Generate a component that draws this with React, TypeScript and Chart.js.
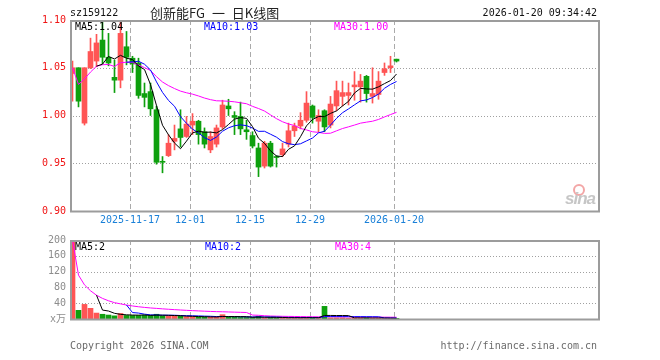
import React, { useEffect, useRef } from "react";
import { Chart, registerables } from "chart.js";

Chart.register(...registerables);

// ---------------- data ----------------
const dates = [
  "2025-11-03", "2025-11-04", "2025-11-05", "2025-11-06", "2025-11-07",
  "2025-11-10", "2025-11-11", "2025-11-12", "2025-11-13", "2025-11-14",
  "2025-11-17", "2025-11-18", "2025-11-19", "2025-11-20", "2025-11-21",
  "2025-11-24", "2025-11-25", "2025-11-26", "2025-11-27", "2025-11-28",
  "2025-12-01", "2025-12-02", "2025-12-03", "2025-12-04", "2025-12-05",
  "2025-12-08", "2025-12-09", "2025-12-10", "2025-12-11", "2025-12-12",
  "2025-12-15", "2025-12-16", "2025-12-17", "2025-12-18", "2025-12-19",
  "2025-12-22", "2025-12-23", "2025-12-24", "2025-12-25", "2025-12-26",
  "2025-12-29", "2025-12-30", "2025-12-31", "2026-01-05", "2026-01-06",
  "2026-01-07", "2026-01-08", "2026-01-09", "2026-01-12", "2026-01-13",
  "2026-01-14", "2026-01-15", "2026-01-16", "2026-01-19", "2026-01-20",
];

const openP = [
  1.044, 1.050, 0.992, 1.050, 1.057, 1.079, 1.061, 1.040, 1.037, 1.072,
  1.060, 1.055, 1.023, 1.025, 1.006, 0.952, 0.958, 0.973, 0.986, 0.978,
  0.990, 0.994, 0.983, 0.964, 0.970, 0.988, 1.010, 1.000, 0.999, 0.985,
  0.979, 0.966, 0.947, 0.971, 0.957, 0.959, 0.970, 0.984, 0.989, 0.995,
  1.010, 0.994, 1.005, 0.990, 1.010, 1.020, 1.021, 1.030, 1.030, 1.041,
  1.020, 1.022, 1.045, 1.050, 1.059,
];
const closeP = [
  1.050, 1.015, 1.050, 1.067, 1.076, 1.061, 1.055, 1.037, 1.086, 1.061,
  1.054, 1.021, 1.019, 1.007, 0.951, 0.951, 0.971, 0.976, 0.977, 0.991,
  0.994, 0.980, 0.970, 0.978, 0.987, 1.011, 1.007, 0.998, 0.986, 0.983,
  0.968, 0.946, 0.971, 0.947, 0.956, 0.965, 0.984, 0.989, 0.995, 1.013,
  0.998, 1.000, 0.988, 1.012, 1.026, 1.024, 1.024, 1.032, 1.036, 1.023,
  1.023, 1.036, 1.049, 1.052, 1.057,
];
const highP = [
  1.057, 1.050, 1.050, 1.081, 1.085, 1.098, 1.086, 1.058, 1.098, 1.088,
  1.062, 1.060, 1.034, 1.034, 1.010, 0.957, 0.980, 0.990, 1.006, 0.999,
  1.002, 0.995, 0.987, 0.983, 0.990, 1.016, 1.017, 1.004, 1.014, 0.995,
  0.983, 0.971, 0.973, 0.973, 0.958, 0.971, 0.992, 0.992, 1.003, 1.025,
  1.011, 1.006, 1.006, 1.020, 1.036, 1.036, 1.034, 1.046, 1.043, 1.042,
  1.050, 1.046, 1.055, 1.062, 1.059,
];
const lowP = [
  1.015, 1.009, 0.990, 1.049, 1.051, 1.054, 1.052, 1.024, 1.029, 1.053,
  1.045, 1.018, 1.009, 1.000, 0.949, 0.940, 0.957, 0.964, 0.967, 0.977,
  0.980, 0.970, 0.966, 0.961, 0.967, 0.986, 1.000, 0.980, 0.980, 0.975,
  0.966, 0.936, 0.945, 0.946, 0.946, 0.957, 0.967, 0.978, 0.986, 0.993,
  0.992, 0.983, 0.983, 0.987, 1.005, 1.010, 1.011, 1.016, 1.014, 1.014,
  1.013, 1.017, 1.042, 1.045, 1.056,
];
// volume, 万
const volume = [
  200, 22, 37, 27, 15, 12, 10, 8, 14, 9,
  9, 9, 10, 9, 12, 8, 8, 7, 7, 6,
  6, 5, 5, 5, 5, 11, 5, 5, 4, 4,
  4, 7, 3, 4, 3, 3, 3, 3, 3, 4,
  3, 3, 32, 3, 3, 3, 2, 3, 3, 3,
  2, 2, 2, 2, 1.5,
];

const priceTicks = [0.9, 0.95, 1.0, 1.05, 1.1];
const priceGrid = [0.95, 1.0, 1.05];
const volTicks = [0, 40, 80, 120, 160, 200];
const volGrid = [40, 80, 120, 160];
const axisTickDates = ["2025-11-17", "2025-12-01", "2025-12-15", "2025-12-29", "2026-01-20"];
const axisTickText = ["2025-11-17", "12-01", "12-15", "12-29", "2026-01-20"];

const priceLegend = ["MA5:1.04", "MA10:1.03", "MA30:1.00"];
const volLegend = ["MA5:2", "MA10:2", "MA30:4"];

// ---------------- layout / style ----------------
const TOTAL_SLOTS = 88;
const SLOT_SHIFT = 5 / 12; // candle centre sits 2.5px right of its slot's left edge
const BODY_W = 5;
const RED = "#ff5555";
const GREEN = "#0ea00e";
const C_MA5 = "#000000";
const C_MA10 = "#0000ff";
const C_MA30 = "#ff00ff";
const MONO = '"DejaVu Sans Mono", "Noto Sans CJK SC", monospace';

const tickIdx = axisTickDates.map((d) => dates.indexOf(d));
const up = dates.map((_, i) => closeP[i] >= openP[i]);
const candleColors = up.map((u) => (u ? RED : GREEN));

function movingAvg(src: number[], n: number, cumulativeStart: boolean) {
  const out: { x: number; y: number }[] = [];
  for (let i = 0; i < src.length; i++) {
    if (i < n - 1 && !cumulativeStart) continue;
    const from = Math.max(0, i - n + 1);
    let s = 0;
    for (let k = from; k <= i; k++) s += src[k];
    out.push({ x: i, y: s / (i - from + 1) });
  }
  return out;
}

function xScaleOpts(showLabels: boolean) {
  return {
    type: "linear",
    min: -SLOT_SHIFT,
    max: TOTAL_SLOTS - SLOT_SHIFT,
    bounds: "data",
    offset: false,
    display: showLabels,
    grid: { display: false, drawTicks: false, offset: false },
    border: { display: false },
    afterBuildTicks: (s: any) => {
      s.ticks = tickIdx.map((i) => ({ value: i - SLOT_SHIFT }));
    },
    afterFit: (s: any) => {
      s.height = 21;
    },
    ticks: {
      autoSkip: false,
      maxRotation: 0,
      padding: 3,
      color: "#1a80d8",
      font: { family: MONO, size: 10 },
      callback: (v: number) => {
        const k = tickIdx.findIndex((i) => Math.abs(i - SLOT_SHIFT - v) < 1e-6);
        return k >= 0 ? axisTickText[k] : "";
      },
    },
  };
}

function framePlugin(hValues: number[]) {
  return {
    id: "frame",
    beforeDatasetsDraw(chart: any) {
      const { ctx, chartArea: a, scales } = chart;
      ctx.save();
      ctx.lineWidth = 1;
      ctx.strokeStyle = "#a0a0a0";
      ctx.setLineDash([1, 2]);
      hValues.forEach((v) => {
        const y = Math.round(scales.y.getPixelForValue(v)) + 0.5;
        ctx.beginPath();
        ctx.moveTo(a.left, y);
        ctx.lineTo(a.right, y);
        ctx.stroke();
      });
      ctx.strokeStyle = "#aaaaaa";
      ctx.setLineDash([5, 3]);
      tickIdx.forEach((i) => {
        const x = Math.round(scales.x.getPixelForValue(i) - BODY_W / 2) + 0.5;
        ctx.beginPath();
        ctx.moveTo(x, a.top);
        ctx.lineTo(x, a.bottom);
        ctx.stroke();
      });
      ctx.restore();
    },
    afterDatasetsDraw(chart: any) {
      const { ctx, chartArea: a } = chart;
      ctx.save();
      ctx.lineWidth = 2;
      ctx.strokeStyle = "#9c9c9c";
      ctx.setLineDash([]);
      ctx.strokeRect(a.left + 1, a.top + 1, a.right - a.left, a.bottom - a.top - 0.5);
      ctx.restore();
    },
  };
}

function lineDs(data: { x: number; y: number }[], color: string) {
  return {
    type: "line",
    data,
    borderColor: color,
    borderWidth: 1,
    pointRadius: 0,
    tension: 0,
    fill: false,
    order: 0,
  };
}

export default function App() {
  const priceRef = useRef<HTMLCanvasElement | null>(null);
  const volRef = useRef<HTMLCanvasElement | null>(null);

  useEffect(() => {
    document.body.style.margin = "0";
    const pc = new Chart(priceRef.current as HTMLCanvasElement, {
      type: "bar",
      data: {
        datasets: [
          lineDs(movingAvg(closeP, 5, false), C_MA5),
          lineDs(movingAvg(closeP, 10, false), C_MA10),
          lineDs(movingAvg(closeP, 30, true), C_MA30),
          {
            type: "bar",
            data: dates.map((_, i) => ({ x: i, y: [openP[i], closeP[i]] })),
            backgroundColor: candleColors,
            barThickness: BODY_W,
            grouped: false,
            minBarLength: 1,
            order: 1,
          },
          {
            type: "bar",
            data: dates.map((_, i) => ({ x: i, y: [lowP[i], highP[i]] })),
            backgroundColor: candleColors,
            barThickness: 1,
            grouped: false,
            order: 2,
          },
        ] as any,
      },
      options: {
        animation: false,
        responsive: false,
        maintainAspectRatio: false,
        events: [],
        layout: { padding: { top: 20, right: 62, left: 0, bottom: 0 } },
        plugins: { legend: { display: false }, tooltip: { enabled: false } },
        scales: {
          x: xScaleOpts(true) as any,
          y: {
            type: "linear",
            min: 0.9,
            max: 1.1,
            bounds: "data",
            grid: { display: false, drawTicks: false },
            border: { display: false },
            afterBuildTicks: (s: any) => {
              s.ticks = priceTicks.map((v) => ({ value: v }));
            },
            afterFit: (s: any) => {
              s.width = 70;
            },
            ticks: {
              padding: 4,
              color: "#f01414",
              font: { family: MONO, size: 10 },
              callback: (v: any) => Number(v).toFixed(2),
            },
          } as any,
        },
      },
      plugins: [framePlugin(priceGrid)],
    } as any);

    const vc = new Chart(volRef.current as HTMLCanvasElement, {
      type: "bar",
      data: {
        datasets: [
          lineDs(movingAvg(volume, 5, false), C_MA5),
          lineDs(movingAvg(volume, 10, false), C_MA10),
          lineDs(movingAvg(volume, 30, true), C_MA30),
          {
            type: "bar",
            data: dates.map((_, i) => ({ x: i, y: volume[i] })),
            backgroundColor: candleColors,
            barThickness: BODY_W,
            grouped: false,
            order: 1,
          },
        ] as any,
      },
      options: {
        animation: false,
        responsive: false,
        maintainAspectRatio: false,
        events: [],
        layout: { padding: { top: 15, right: 62, left: 0, bottom: 20 } },
        plugins: { legend: { display: false }, tooltip: { enabled: false } },
        scales: {
          x: xScaleOpts(false) as any,
          y: {
            type: "linear",
            min: 0,
            max: 200,
            bounds: "data",
            grid: { display: false, drawTicks: false },
            border: { display: false },
            afterBuildTicks: (s: any) => {
              s.ticks = volTicks.map((v) => ({ value: v }));
            },
            afterFit: (s: any) => {
              s.width = 70;
            },
            ticks: {
              padding: 4,
              color: "#8c8c8c",
              font: { family: MONO, size: 10 },
              callback: (v: any) => (Number(v) === 0 ? "x万" : String(v)),
            },
          } as any,
        },
      },
      plugins: [framePlugin(volGrid)],
    } as any);

    const fonts: any = (document as any).fonts;
    if (fonts && fonts.load) {
      Promise.all([
        fonts.load('10px "DejaVu Sans Mono"'),
        fonts.load('10px "Noto Sans CJK SC"'),
      ])
        .then(() => {
          pc.update();
          vc.update();
        })
        .catch(() => {});
    }

    return () => {
      pc.destroy();
      vc.destroy();
    };
  }, []);

  const mono: React.CSSProperties = {
    position: "absolute",
    fontFamily: MONO,
    fontSize: 10,
    lineHeight: "12px",
    whiteSpace: "nowrap",
  };

  return (
    <div
      style={{
        position: "absolute",
        left: 0,
        top: 0,
        width: 660,
        height: 360,
        background: "#ffffff",
        overflow: "hidden",
      }}
    >
      <canvas
        ref={priceRef}
        width={660}
        height={232}
        style={{ position: "absolute", left: 0, top: 0, width: 660, height: 232 }}
      />
      <canvas
        ref={volRef}
        width={660}
        height={135}
        style={{ position: "absolute", left: 0, top: 225, width: 660, height: 135 }}
      />

      <div style={{ ...mono, left: 70, top: 7, color: "#111" }}>sz159122</div>
      <div
        style={{
          position: "absolute",
          left: 150,
          top: 5,
          fontFamily: '"Noto Sans CJK SC", sans-serif',
          fontSize: 13,
          lineHeight: "15px",
          wordSpacing: 4,
          color: "#222",
          whiteSpace: "pre",
        }}
      >
        {"创新能FG 一 日K线图"}
      </div>
      <div style={{ ...mono, right: 63, top: 7, color: "#111" }}>2026-01-20 09:34:42</div>

      <div style={{ ...mono, left: 75, top: 20.5, color: C_MA5 }}>{priceLegend[0]}</div>
      <div style={{ ...mono, left: 204, top: 20.5, color: C_MA10 }}>{priceLegend[1]}</div>
      <div style={{ ...mono, left: 334, top: 20.5, color: C_MA30 }}>{priceLegend[2]}</div>

      <div style={{ ...mono, left: 75, top: 240.5, color: C_MA5 }}>{volLegend[0]}</div>
      <div style={{ ...mono, left: 205, top: 240.5, color: C_MA10 }}>{volLegend[1]}</div>
      <div style={{ ...mono, left: 335, top: 240.5, color: C_MA30 }}>{volLegend[2]}</div>

      <div style={{ ...mono, left: 70, top: 339.5, color: "#6a6a6a" }}>Copyright 2026 SINA.COM</div>
      <div style={{ ...mono, right: 63, top: 339.5, color: "#6a6a6a" }}>http://finance.sina.com.cn</div>

      <div
        style={{
          position: "absolute",
          left: 573,
          top: 184,
          width: 8,
          height: 8,
          border: "2px solid #f3a6a6",
          borderRadius: "50%",
        }}
      />
      <div
        style={{
          position: "absolute",
          left: 565,
          top: 189,
          fontFamily: '"Liberation Sans", sans-serif',
          fontStyle: "italic",
          fontWeight: "bold",
          fontSize: 17,
          lineHeight: "20px",
          letterSpacing: -1,
          color: "#c6c6c6",
          whiteSpace: "nowrap",
        }}
      >
        sina
      </div>
    </div>
  );
}
